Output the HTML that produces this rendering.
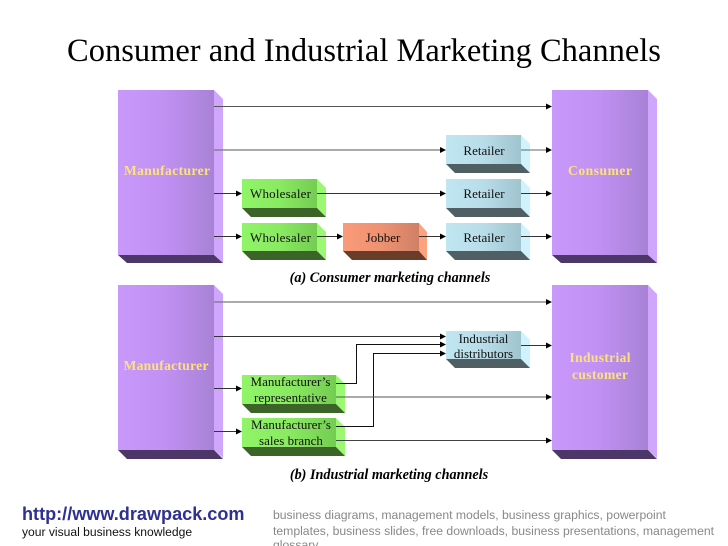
<!DOCTYPE html>
<html>
<head>
<meta charset="utf-8">
<style>
html,body{margin:0;padding:0;background:#fff;}
svg{display:block;}
</style>
</head>
<body>
<svg xmlns="http://www.w3.org/2000/svg" width="728" height="546" viewBox="0 0 728 546" font-family="'Liberation Serif',serif">
<defs>
<linearGradient id="p" x1="0" x2="1" y1="0" y2="0"><stop offset="0" stop-color="#c898fa"/><stop offset="0.5" stop-color="#c090f2"/><stop offset="1" stop-color="#a882d6"/></linearGradient>
<linearGradient id="g" x1="0" x2="1" y1="0" y2="0"><stop offset="0" stop-color="#90f468"/><stop offset="0.5" stop-color="#8aea62"/><stop offset="1" stop-color="#74cc52"/></linearGradient>
<linearGradient id="b" x1="0" x2="1" y1="0" y2="0"><stop offset="0" stop-color="#c0e6f2"/><stop offset="0.5" stop-color="#b8dde9"/><stop offset="1" stop-color="#a0c4ce"/></linearGradient>
<linearGradient id="o" x1="0" x2="1" y1="0" y2="0"><stop offset="0" stop-color="#fa9a78"/><stop offset="0.5" stop-color="#ee9272"/><stop offset="1" stop-color="#d08066"/></linearGradient>
</defs>
<rect width="728" height="546" fill="#fff"/>
<text x="364" y="61" font-size="32.500" text-anchor="middle" fill="#000">Consumer and Industrial Marketing Channels</text>

<!-- big boxes -->
<g id="bigs">
<path d="M214 90l9 9v164l-9-8z" fill="#d0a6fc"/><path d="M118 255h96l9 8h-96z" fill="#4c3768"/><rect x="118" y="90" width="96" height="165" fill="url(#p)"/>
<path d="M648 90l9 9v164l-9-8z" fill="#d0a6fc"/><path d="M552 255h96l9 8h-96z" fill="#4c3768"/><rect x="552" y="90" width="96" height="165" fill="url(#p)"/>
<path d="M214 285l9 9v164l-9-8z" fill="#d0a6fc"/><path d="M118 450h96l9 9h-96z" fill="#4c3768"/><rect x="118" y="285" width="96" height="165" fill="url(#p)"/>
<path d="M648 285l9 9v164l-9-8z" fill="#d0a6fc"/><path d="M552 450h96l9 9h-96z" fill="#4c3768"/><rect x="552" y="285" width="96" height="165" fill="url(#p)"/>
</g>

<!-- small boxes -->
<path d="M317 179l9 9v29l-9-9z" fill="#9af872"/><path d="M242 208h75l9 9h-75z" fill="#3c6428"/><rect x="242" y="179" width="75" height="29" fill="url(#g)"/>
<path d="M317 223l9 9v28l-9-9z" fill="#9af872"/><path d="M242 251h75l9 9h-75z" fill="#3c6428"/><rect x="242" y="223" width="75" height="28" fill="url(#g)"/>
<path d="M419 223l8 9v28l-8-9z" fill="#fca27e"/><path d="M343 251h76l8 9h-75z" fill="#6a3c2a"/><rect x="343" y="223" width="76" height="28" fill="url(#o)"/>
<path d="M521 135l9 9v29l-9-9z" fill="#d0f2fc"/><path d="M446 164h75l9 9h-75z" fill="#4f5f64"/><rect x="446" y="135" width="75" height="29" fill="url(#b)"/>
<path d="M521 179l9 9v29l-9-9z" fill="#d0f2fc"/><path d="M446 208h75l9 9h-75z" fill="#4f5f64"/><rect x="446" y="179" width="75" height="29" fill="url(#b)"/>
<path d="M521 223l9 9v28l-9-9z" fill="#d0f2fc"/><path d="M446 251h75l9 9h-75z" fill="#4f5f64"/><rect x="446" y="223" width="75" height="28" fill="url(#b)"/>
<path d="M521 331l9 9v28l-9-9z" fill="#d0f2fc"/><path d="M446 359h75l9 9h-75z" fill="#4f5f64"/><rect x="446" y="331" width="75" height="28" fill="url(#b)"/>
<path d="M336 375l9 9v29l-9-9z" fill="#9af872"/><path d="M242 404h94l9 9h-94z" fill="#3c6428"/><rect x="242" y="375" width="94" height="29" fill="url(#g)"/>
<path d="M336 418l9 9v29l-9-9z" fill="#9af872"/><path d="M242 447h94l9 9h-94z" fill="#3c6428"/><rect x="242" y="418" width="94" height="29" fill="url(#g)"/>

<!-- connectors -->
<g fill="none" stroke="#333" stroke-width="1">
<path d="M214 106.500H546" stroke="#555"/>
<path d="M214 150H440" stroke="#777" stroke-width="1.200"/>
<path d="M521 150H546" stroke="#666"/>
<path d="M214 193.500H236M317 193.500H440M521 193.500H546"/>
<path d="M214 236.500H236M317 236.500H337M419 236.500H440M521 236.500H546"/>
<path d="M214 302H546" stroke="#777" stroke-width="1.200"/>
<path d="M214 336.500H440M521 345.500H546"/>
<path d="M214 388.500H236M214 431.500H236"/>
<path d="M336 383.500H356.500V344.500H440" stroke="#111"/>
<path d="M336 426.500H373.500V353.500H440" stroke="#111"/>
<path d="M336 397H546" stroke="#555"/>
<path d="M336 440.500H546" stroke="#444"/>
</g>
<g fill="#000">
<path d="M552 106.500l-6-3v6z"/>
<path d="M446 150l-6-3v6z"/><path d="M552 150l-6-3v6z"/>
<path d="M242 193.500l-6-3v6z"/><path d="M446 193.500l-6-3v6z"/><path d="M552 193.500l-6-3v6z"/>
<path d="M242 236.500l-6-3v6z"/><path d="M343 236.500l-6-3v6z"/><path d="M446 236.500l-6-3v6z"/><path d="M552 236.500l-6-3v6z"/>
<path d="M552 302l-6-3v6z"/>
<path d="M446 336.500l-6-3v6z"/><path d="M446 344.500l-6-3v6z"/><path d="M446 353.500l-6-3v6z"/>
<path d="M552 345.500l-6-3v6z"/>
<path d="M242 388.500l-6-3v6z"/><path d="M242 431.500l-6-3v6z"/>
<path d="M552 397l-6-3v6z"/><path d="M552 440.500l-6-3v6z"/>
</g>

<!-- labels -->
<g font-size="13.500" font-weight="bold" fill="#fde27a" text-anchor="middle" lengthAdjust="spacing">
<text x="167" y="175" textLength="86">Manufacturer</text>
<text x="600" y="175" textLength="64">Consumer</text>
<text x="166" y="370" textLength="85">Manufacturer</text>
<text x="600" y="362" textLength="61">Industrial</text>
<text x="600" y="379" textLength="56">customer</text>
</g>
<g font-size="13" fill="#111" text-anchor="middle">
<text x="280.500" y="198" textLength="61">Wholesaler</text>
<text x="280.500" y="242" textLength="61">Wholesaler</text>
<text x="383" y="242">Jobber</text>
<text x="484" y="155">Retailer</text>
<text x="484" y="198">Retailer</text>
<text x="484" y="242">Retailer</text>
<text x="483.500" y="343">Industrial</text>
<text x="483.500" y="358">distributors</text>
<text x="290.500" y="386">Manufacturer’s</text>
<text x="290.500" y="402">representative</text>
<text x="291" y="429">Manufacturer’s</text>
<text x="291" y="445">sales branch</text>
</g>
<g font-size="14.200" font-weight="bold" font-style="italic" fill="#000" text-anchor="middle">
<text x="390" y="282">(a) Consumer marketing channels</text>
<text x="389" y="479">(b) Industrial marketing channels</text>
</g>

<!-- footer -->
<g font-family="'Liberation Sans',sans-serif">
<text x="22" y="520" font-size="18.100" font-weight="bold" fill="#2e3192">http://www.drawpack.com</text>
<text x="22" y="536" font-size="12.100" fill="#111">your visual business knowledge</text>
<g font-size="12.200" fill="#888">
<text x="273" y="519">business diagrams, management models, business graphics, powerpoint</text>
<text x="273" y="535">templates, business slides, free downloads, business presentations, management</text>
<text x="273" y="549">glossary</text>
</g>
</g>
</svg>
</body>
</html>
